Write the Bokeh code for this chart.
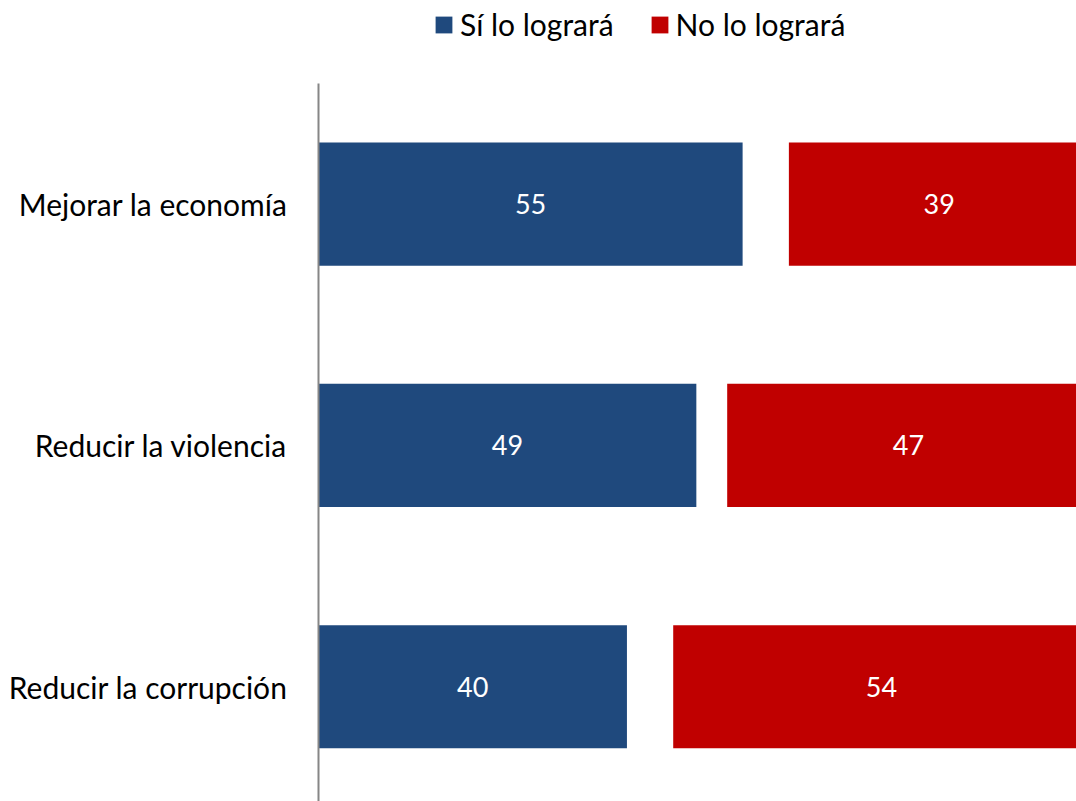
from bokeh.plotting import figure
from bokeh.models import Range1d, FixedTicker, Legend, LegendItem, ColumnDataSource
from bokeh.core.properties import value
from bokeh.embed import file_html
from bokeh.resources import INLINE

categories = ["Mejorar la economía", "Reducir la violencia", "Reducir la corrupción"]
si_values = [55, 49, 40]
no_values = [39, 47, 54]
series_names = ["Sí lo logrará", "No lo logrará"]
total = 100

FONT = "Lato"
BLUE = "#1F497D"
RED = "#C00000"

ypos = list(range(len(categories)))
no_left = [total - v for v in no_values]
no_right = [total] * len(no_values)
si_center = [v / 2 for v in si_values]
no_center = [(l + r) / 2 for l, r in zip(no_left, no_right)]

src = ColumnDataSource(dict(
    y=ypos, si=si_values, no=no_values, zero=[0] * len(ypos),
    no_left=no_left, no_right=no_right,
    si_c=si_center, no_c=no_center,
    si_t=[str(v) for v in si_values], no_t=[str(v) for v in no_values],
))

p = figure(width=1076, height=801, output_backend="svg", toolbar_location=None,
           x_range=Range1d(0, 98.3), y_range=Range1d(2.476, -0.844),
           min_border_left=318, min_border_right=0, min_border_top=0, min_border_bottom=0)
p.outline_line_color = None
p.grid.visible = False
p.xaxis.visible = False
p.background_fill_color = "white"
p.border_fill_color = "white"

r1 = p.hbar(y="y", left="zero", right="si", height=0.51, fill_color=BLUE, line_color=None, source=src)
r2 = p.hbar(y="y", left="no_left", right="no_right", height=0.51, fill_color=RED, line_color=None, source=src)

p.text(x="si_c", y="y", text="si_t", source=src, text_color="white", text_align="center",
       text_baseline="middle", text_font=value(FONT), text_font_size="27px")
p.text(x="no_c", y="y", text="no_t", source=src, text_color="white", text_align="center",
       text_baseline="middle", text_font=value(FONT), text_font_size="27px")

ax = p.yaxis[0]
ax.ticker = FixedTicker(ticks=ypos)
ax.bounds = (-0.5, 2.476)
ax.major_label_overrides = {i: c for i, c in enumerate(categories)}
ax.major_tick_line_color = None
ax.minor_tick_line_color = None
ax.major_tick_out = 0
ax.major_tick_in = 0
ax.major_label_standoff = 31
ax.axis_line_color = "#868686"
ax.axis_line_width = 2
ax.major_label_text_font = FONT
ax.major_label_text_font_size = "30px"
ax.major_label_text_color = "black"

legend = Legend(items=[LegendItem(label=series_names[0], renderers=[r1]),
                       LegendItem(label=series_names[1], renderers=[r2])],
                orientation="horizontal", location=(115, 759),
                glyph_width=21, glyph_height=21, label_standoff=6, spacing=35,
                padding=0, margin=0, border_line_color=None, background_fill_alpha=0,
                label_text_font=FONT, label_text_font_size="30px", label_text_color="black")
p.add_layout(legend, "center")

open("out.html", "w").write(file_html(p, INLINE))
